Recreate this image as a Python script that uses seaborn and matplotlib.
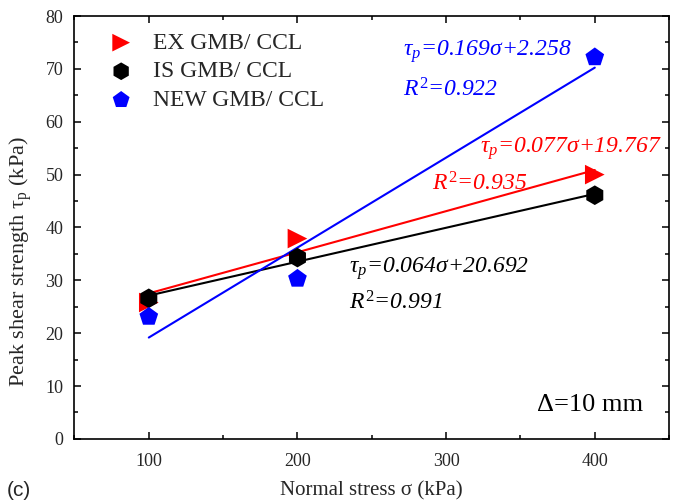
import matplotlib
matplotlib.use("Agg")
import matplotlib.pyplot as plt
import seaborn as sns
import numpy as np
import pandas as pd
from matplotlib.ticker import MultipleLocator

sns.set_style("ticks")
plt.rcParams['font.family'] = ['Liberation Serif', 'DejaVu Serif']
plt.rcParams['mathtext.fontset'] = 'custom'
plt.rcParams['mathtext.rm'] = 'Liberation Serif'
plt.rcParams['mathtext.it'] = 'Liberation Serif:italic'

stress = [100, 200, 400]
ex_vals = [25.8, 37.9, 50.0]
is_vals = [26.6, 34.3, 46.1]
new_vals = [23.1, 30.3, 72.2]

series_names = ["EX GMB/ CCL", "IS GMB/ CCL", "NEW GMB/ CCL"]
series_vals = [ex_vals, is_vals, new_vals]
colors = ["#ff0000", "#000000", "#0000ff"]
markers = [">", "h", "p"]

eq_texts = [r"$\tau_p$=0.077σ+19.767", r"$\tau_p$=0.064σ+20.692", r"$\tau_p$=0.169σ+2.258"]
r2_texts = [r"$R^2$=0.935", r"$R^2$=0.991", r"$R^2$=0.922"]

fig = plt.figure(figsize=(6.8, 5.01), dpi=100)
ax = fig.add_axes([0.1095, 0.124, 0.8745, 0.844])

for name, vals, c, m in zip(series_names, series_vals, colors, markers):
    df = pd.DataFrame({"x": stress, "y": vals})
    sns.regplot(data=df, x="x", y="y", ax=ax, ci=None, color=c, marker=m, label=name,
                scatter_kws={"s": 200, "edgecolors": "none", "zorder": 3, "alpha": 1},
                line_kws={"lw": 1.5, "zorder": 2})

ax.set_xlim(50, 450)
ax.set_ylim(0, 80)
ax.xaxis.set_major_locator(MultipleLocator(100))
ax.xaxis.set_minor_locator(MultipleLocator(50))
ax.yaxis.set_major_locator(MultipleLocator(10))
ax.yaxis.set_minor_locator(MultipleLocator(5))
ax.tick_params(which='both', direction='in', top=True, right=True, labelsize=13, color='black')
ax.tick_params(which='major', length=5, width=1.1, pad=10)
ax.tick_params(which='minor', length=3, width=1.1)
ax.tick_params(axis='y', which='major', pad=8)
for sp in ax.spines.values():
    sp.set_linewidth(1.2)
    sp.set_color('black')

ax.set_xlabel("Normal stress σ (kPa)", fontsize=15, labelpad=8)
ax.set_ylabel(r"Peak shear strength τ$_\mathrm{p}$ (kPa)", fontsize=16)
ax.yaxis.set_label_coords(-0.068, 0.42)

leg = ax.legend(loc='upper left', bbox_to_anchor=(0.015, 0.995), frameon=False,
                fontsize=17, handletextpad=0.35, labelspacing=0.3, borderaxespad=0.2,
                markerscale=0.9)

# annotations
ax.text(323, 55, eq_texts[0], color=colors[0], fontsize=17, style='italic', va='center')
ax.text(290.5, 48.3, r2_texts[0], color=colors[0], fontsize=17, style='italic', va='center')
ax.text(235, 32.2, eq_texts[1], color=colors[1], fontsize=17, style='italic', va='center')
ax.text(235, 25.8, r2_texts[1], color=colors[1], fontsize=17, style='italic', va='center')
ax.text(271, 73.2, eq_texts[2], color=colors[2], fontsize=17, style='italic', va='center')
ax.text(271, 66.0, r2_texts[2], color=colors[2], fontsize=17, style='italic', va='center')

ax.text(361, 6.4, "Δ=10 mm", fontsize=19, va='center', color='black')

fig.text(0.01, 0.01, "(c)", fontsize=15, family=['Liberation Sans', 'DejaVu Sans'])

fig.savefig("out.png", dpi=100)
